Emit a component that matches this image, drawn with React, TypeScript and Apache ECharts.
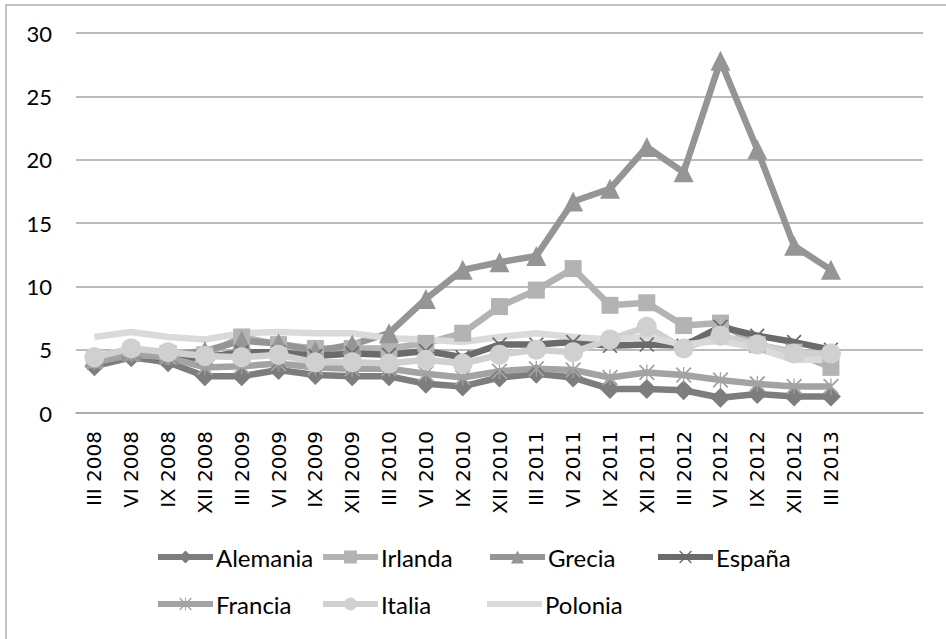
import React, { useEffect, useRef } from "react";
import * as echarts from "echarts";

const categories = [
  "III 2008", "VI 2008", "IX 2008", "XII 2008", "III 2009", "VI 2009", "IX 2009", "XII 2009",
  "III 2010", "VI 2010", "IX 2010", "XII 2010", "III 2011", "VI 2011", "IX 2011", "XII 2011",
  "III 2012", "VI 2012", "IX 2012", "XII 2012", "III 2013", "", "",
];

const alemania = [3.7, 4.4, 4.0, 2.9, 2.9, 3.4, 3.0, 2.9, 2.9, 2.3, 2.1, 2.8, 3.1, 2.8, 1.9, 1.9, 1.8, 1.2, 1.5, 1.3, 1.3];
const irlanda = [4.2, 4.9, 4.7, 4.6, 6.0, 5.4, 5.1, 5.1, 5.1, 5.5, 6.3, 8.4, 9.7, 11.4, 8.5, 8.7, 6.9, 7.1, 5.4, 4.8, 3.6];
const grecia = [4.4, 4.9, 4.6, 4.9, 5.7, 5.5, 4.9, 5.4, 6.3, 9.0, 11.3, 11.9, 12.4, 16.7, 17.7, 21.0, 19.0, 27.8, 20.8, 13.2, 11.3];
const espana = [4.0, 4.6, 4.3, 4.4, 4.8, 4.8, 4.5, 4.7, 4.6, 4.9, 4.4, 5.4, 5.4, 5.6, 5.3, 5.4, 5.3, 6.8, 6.1, 5.6, 5.0];
const francia = [4.0, 4.6, 4.4, 3.6, 3.7, 3.9, 3.6, 3.5, 3.5, 3.1, 2.8, 3.3, 3.5, 3.4, 2.8, 3.2, 3.0, 2.6, 2.3, 2.1, 2.1];
const italia = [4.4, 5.1, 4.8, 4.5, 4.4, 4.6, 4.0, 4.0, 3.9, 4.2, 3.9, 4.6, 5.0, 4.8, 5.8, 6.8, 5.1, 6.1, 5.4, 4.7, 4.7];
const polonia = [6.0, 6.4, 6.0, 5.8, 6.3, 6.4, 6.3, 6.3, 5.9, 5.8, 5.6, 6.0, 6.3, 6.0, 5.8, 6.0, 5.4, 5.7, 5.1, 4.2, 4.2];

const X_PATH = "path://M0,1.6L1.6,0L10,8.4L18.4,0L20,1.6L11.6,10L20,18.4L18.4,20L10,11.6L1.6,20L0,18.4L8.4,10Z";
const STAR_PATH =
  "path://M0,1.6L1.6,0L10,8.4L18.4,0L20,1.6L11.6,10L20,18.4L18.4,20L10,11.6L1.6,20L0,18.4L8.4,10Z M9.2,0L10.8,0L10.8,20L9.2,20Z";

const seriesDefs = [
  { name: "Alemania", data: alemania, color: "#7d7d7d", symbol: "diamond", size: 20, col: 0, row: 0 },
  { name: "Irlanda", data: irlanda, color: "#b3b3b3", symbol: "rect", size: 17, col: 1, row: 0 },
  { name: "Grecia", data: grecia, color: "#959595", symbol: "triangle", size: 20, col: 2, row: 0 },
  { name: "España", data: espana, color: "#6b6b6b", symbol: X_PATH, size: 15, col: 3, row: 0 },
  { name: "Francia", data: francia, color: "#a3a3a3", symbol: STAR_PATH, size: 16, col: 0, row: 1 },
  { name: "Italia", data: italia, color: "#d0d0d0", symbol: "circle", size: 20, col: 1, row: 1 },
  { name: "Polonia", data: polonia, color: "#dadada", symbol: "none", size: 0, col: 2, row: 1 },
];

const colLeft = [155, 320, 487, 655];
const rowTop = [545, 592];

export default function App() {
  const ref = useRef<HTMLDivElement>(null);
  useEffect(() => {
    if (!ref.current) return;
    const chart = echarts.init(ref.current, undefined, { renderer: "svg" });
    const font = "Lato, 'Open Sans', sans-serif";
    chart.setOption({
      animation: false,
      backgroundColor: "#ffffff",
      graphic: [
        {
          type: "rect",
          shape: { x: 6, y: 5, width: 980, height: 700 },
          style: { fill: "none", stroke: "#b0b0b0", lineWidth: 1.5 },
          silent: true,
        },
      ],
      grid: { left: 76, right: 23, top: 33, bottom: 226, containLabel: false },
      xAxis: {
        type: "category",
        data: categories,
        boundaryGap: true,
        axisLine: { show: true, lineStyle: { color: "#a6a6a6", width: 1.5 } },
        axisTick: { show: false },
        axisLabel: {
          rotate: 90,
          margin: 18,
          interval: 0,
          color: "#000",
          fontFamily: "'DejaVu Sans', sans-serif",
          fontSize: 20,
        },
        splitLine: { show: false },
      },
      yAxis: {
        type: "value",
        min: 0,
        max: 30,
        interval: 5,
        axisLine: { show: false },
        axisTick: { show: false },
        axisLabel: { margin: 24, color: "#000", fontFamily: font, fontSize: 22 },
        splitLine: { show: true, lineStyle: { color: "#a6a6a6", width: 1.5 } },
      },
      legend: seriesDefs.map((s) => {
        const isLine = s.symbol === "none";
        return {
          data: [isLine ? { name: s.name, icon: "rect" } : { name: s.name }],
          left: isLine ? colLeft[s.col] + 0 : colLeft[s.col],
          top: rowTop[s.row],
          padding: 0,
          itemWidth: 55,
          itemHeight: isLine ? 6 : 16,
          itemGap: 0,
          lineStyle: { width: 6 },
          itemStyle: { borderWidth: 0 },
          textStyle: { color: "#000", fontFamily: font, fontSize: 24, padding: [0, 0, 0, -2] },
        };
      }),
      series: seriesDefs.map((s) => ({
        name: s.name,
        type: "line",
        data: s.data,
        symbol: s.symbol,
        symbolSize: s.size,
        showSymbol: s.symbol !== "none",
        color: s.color,
        lineStyle: { color: s.color, width: 6.5 },
        itemStyle: { color: s.color, borderWidth: 0 },
        emphasis: { disabled: true },
      })),
    });
    return () => chart.dispose();
  }, []);
  return (
    <div
      ref={ref}
      style={{ position: "fixed", left: 0, top: 0, width: 946, height: 639, background: "#fff" }}
    />
  );
}
